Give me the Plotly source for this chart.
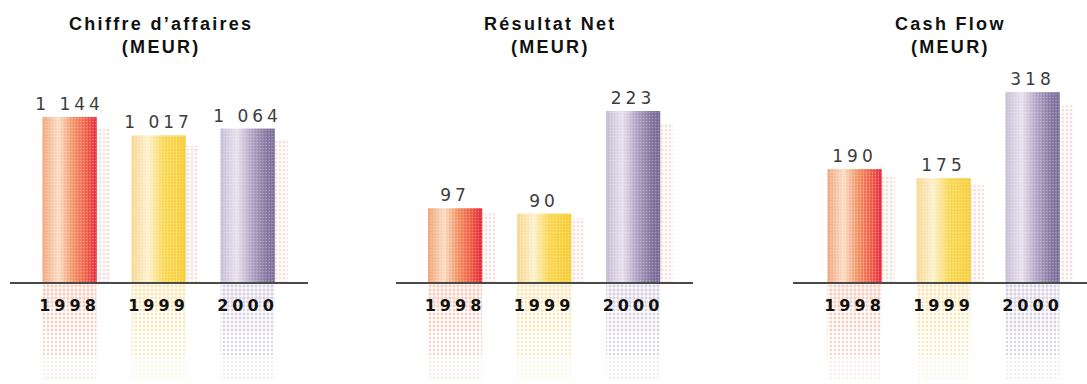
import plotly.graph_objects as go

# ---- data -------------------------------------------------------------
years = ["1998", "1999", "2000"]
chiffre_affaires = [1144, 1017, 1064]
resultat_net = [97, 90, 223]
cash_flow = [190, 175, 318]
panel_titles = [["Chiffre d’affaires", "(MEUR)"], ["Résultat Net", "(MEUR)"], ["Cash Flow", "(MEUR)"]]
panel_values = [chiffre_affaires, resultat_net, cash_flow]

# ---- layout constants (pixels) ---------------------------------------
W, H = 1087, 384
BASE_PX = 283            # baseline, from top
STEP = 89                # distance between bar centres
BAR_W = 54               # bar width
panels = [
    dict(left=10, right=308, c0=69.5, scale=0.1451, title_x=161),
    dict(left=396, right=693, c0=455, scale=0.771, title_x=550),
    dict(left=793, right=1087, c0=854.5, scale=0.600, title_x=950),
]

# horizontal colour ramps of each year's bar
ramps = {
    "1998": [(0, "#f2a276"), (0.3, "#fadcc2"), (0.55, "#f39262"), (0.8, "#ef5c44"), (1, "#e6243a")],
    "1999": [(0, "#f8d68c"), (0.3, "#fdf0cc"), (0.6, "#f9d650"), (1, "#f7cc34")],
    "2000": [(0, "#c3b9d3"), (0.3, "#e7e1ed"), (0.55, "#b1a6c5"), (0.85, "#7e719e"), (1, "#746892")],
}
dot_colors = {"1998": "#f0a080", "1999": "#f6d070", "2000": "#b0a4c8"}


def hex_rgb(h):
    h = h.lstrip("#")
    return tuple(int(h[i:i + 2], 16) for i in (0, 2, 4))


def ramp_at(stops, t):
    for (t0, c0), (t1, c1) in zip(stops[:-1], stops[1:]):
        if t <= t1:
            f = 0 if t1 == t0 else (t - t0) / (t1 - t0)
            a, b = hex_rgb(c0), hex_rgb(c1)
            return "rgb(%d,%d,%d)" % tuple(round(a[k] + (b[k] - a[k]) * f) for k in range(3))
    return stops[-1][1]


def fmt_value(v):
    return f"{v:,}".replace(",", " ")


def spaced(text, px):
    return '<span style="letter-spacing:%spx">%s</span>' % (px, text)


N_STRIPES = 18
fig = go.Figure()
layout = dict(
    width=W, height=H, margin=dict(l=0, r=0, t=0, b=0),
    paper_bgcolor="white", plot_bgcolor="white",
    barmode="overlay", showlegend=False, hovermode=False,
    font=dict(family="Liberation Sans, Arial, sans-serif"),
    annotations=[],
)

xs = [0, 1, 2]
for p, (panel, values, title) in enumerate(zip(panels, panel_values, panel_titles)):
    sfx = "" if p == 0 else str(p + 1)
    xa, ya = "x" + sfx, "y" + sfx
    w = BAR_W / STEP
    ymin = -(H - BASE_PX) / panel["scale"]
    ymax = BASE_PX / panel["scale"]

    # dotted reflection below the baseline, fading downwards
    depth = -ymin * 0.97
    seg = depth / 4
    for k, sol in enumerate([0.55, 0.4, 0.26, 0.12]):
        fig.add_trace(go.Bar(
            x=xs, y=[-seg] * 3, base=[-seg * k] * 3, xaxis=xa, yaxis=ya,
            offset=-w / 2, width=w,
            marker=dict(color="rgba(0,0,0,0)", line_width=0,
                        pattern=dict(shape=".", size=4, solidity=sol,
                                     fgcolor=[dot_colors[y] for y in years],
                                     bgcolor="rgba(0,0,0,0)", fillmode="overlay")),
        ))

    # dotted shadow on the right-hand side of each bar
    fig.add_trace(go.Bar(
        x=xs, y=[v * 0.93 for v in values], xaxis=xa, yaxis=ya,
        offset=w / 2 - 0.01, width=0.16,
        marker=dict(color="rgba(0,0,0,0)", line_width=0,
                    pattern=dict(shape=".", size=4, solidity=0.45,
                                 fgcolor="#e6c4bc", bgcolor="rgba(0,0,0,0)",
                                 fillmode="overlay")),
    ))

    # the bars, built from narrow vertical stripes for the colour ramp
    for s in range(N_STRIPES):
        t = (s + 0.5) / N_STRIPES
        fig.add_trace(go.Bar(
            x=xs, y=values, xaxis=xa, yaxis=ya,
            offset=-w / 2 + s * w / N_STRIPES, width=w / N_STRIPES * 1.08,
            marker=dict(color=[ramp_at(ramps[y], t) for y in years], line_width=0),
        ))

    # fine dot texture over the bars
    fig.add_trace(go.Bar(
        x=xs, y=values, xaxis=xa, yaxis=ya, offset=-w / 2, width=w,
        marker=dict(color="rgba(0,0,0,0)", line_width=0,
                    pattern=dict(shape=".", size=3, solidity=0.25,
                                 fgcolor="rgba(255,255,255,0.6)",
                                 bgcolor="rgba(0,0,0,0)", fillmode="overlay")),
    ))

    # value labels
    fig.add_trace(go.Bar(
        x=xs, y=values, xaxis=xa, yaxis=ya, offset=-w / 2, width=w,
        marker=dict(color="rgba(0,0,0,0)", line_width=0),
        text=[fmt_value(v) for v in values],
        texttemplate=spaced("%{text}", 4),
        textposition="outside", cliponaxis=False, constraintext="none",
        textfont=dict(family="DejaVu Sans, sans-serif", size=17, color="#3c3c3c"),
    ))

    x0 = (panel["left"] - panel["c0"]) / STEP
    x1 = (panel["right"] - panel["c0"]) / STEP
    layout["xaxis" + sfx] = dict(
        domain=[panel["left"] / W, panel["right"] / W], range=[x0, x1],
        anchor="free", position=(H - BASE_PX) / H,
        showline=True, linecolor="#4a4a4a", linewidth=2, layer="above traces",
        showgrid=False, zeroline=False, ticks="",
        tickvals=xs,
        ticktext=[spaced(y, 4) for y in years],
        tickfont=dict(family="DejaVu Sans, sans-serif", size=16, color="#111", weight="bold"),
        ticklabelstandoff=8, fixedrange=True,
    )
    layout["yaxis" + sfx] = dict(
        domain=[0, 1], range=[ymin, ymax], anchor=xa,
        visible=False, fixedrange=True,
    )
    layout["annotations"].append(dict(
        text="<br>".join(spaced(line, 2.3) for line in title),
        xref="paper", yref="paper", x=panel["title_x"] / W, y=(H - 35.5) / H,
        xanchor="center", yanchor="middle", showarrow=False,
        font=dict(family="Liberation Sans, Arial, sans-serif", size=18, color="#111",
                  weight="bold"),
    ))

fig.update_layout(**layout)
fig.write_html("out.html")
